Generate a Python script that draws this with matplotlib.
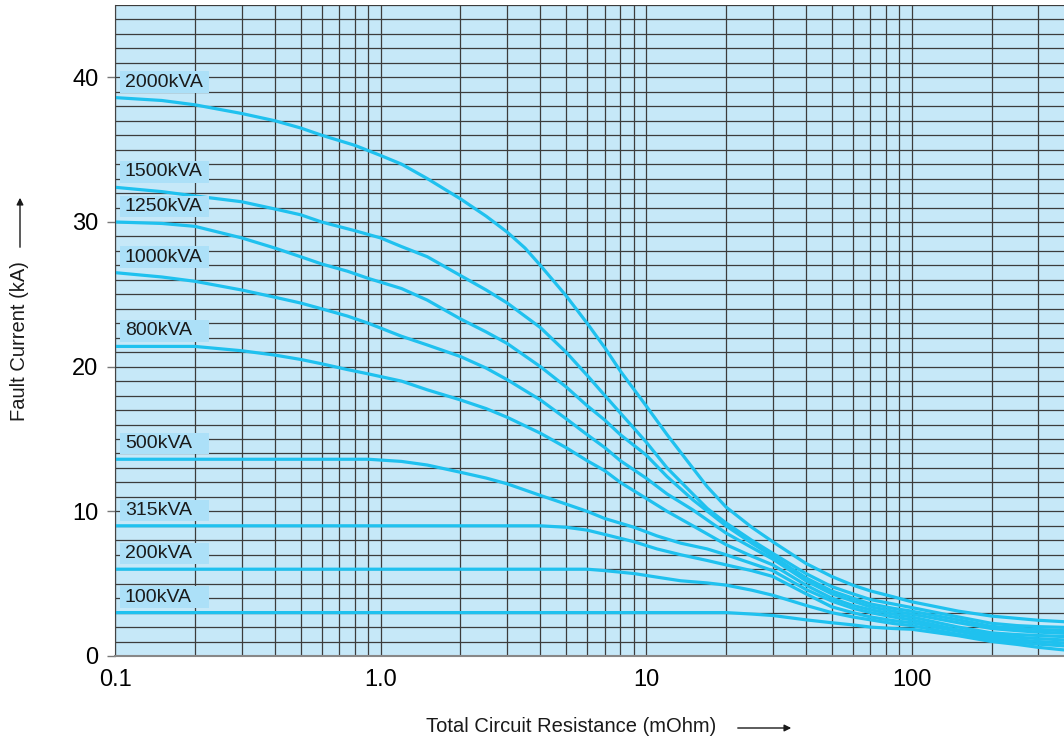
import matplotlib
matplotlib.use('Agg')
from matplotlib import pyplot as plt
from matplotlib.patches import Rectangle
from matplotlib.transforms import blended_transform_factory
import numpy as np

plt.rcParams['font.family'] = ['Liberation Sans', 'DejaVu Sans']

# transformer ratings
labels = ['2000kVA', '1500kVA', '1250kVA', '1000kVA', '800kVA',
          '500kVA', '315kVA', '200kVA', '100kVA']

# resistance (mOhm) / fault current (kA)
r_2000 = [0.1, 0.15, 0.2, 0.3, 0.4, 0.5, 0.6, 0.8, 1, 1.2, 1.5, 2, 2.5, 3, 3.5, 4, 5, 6, 7, 8, 10, 12, 14, 17, 20, 25, 30, 40, 50, 60, 70, 85, 100, 150, 200, 250, 300, 375]
i_2000 = [38.6, 38.4, 38.1, 37.5, 37.0, 36.5, 36.0, 35.3, 34.6, 34.0, 33.0, 31.6, 30.4, 29.3, 28.2, 27.0, 24.9, 23.0, 21.3, 19.7, 17.3, 15.3, 13.7, 11.7, 10.3, 8.9, 7.9, 6.4, 5.5, 4.9, 4.5, 4.1, 3.75, 3.1, 2.76, 2.6, 2.47, 2.37]

r_1500 = [0.1, 0.15, 0.2, 0.3, 0.4, 0.5, 0.6, 0.8, 1, 1.2, 1.5, 2, 2.5, 3, 4, 5, 6, 7, 8, 10, 12, 15, 17, 20, 25, 30, 40, 50, 60, 70, 85, 100, 150, 200, 250, 300, 375]
i_1500 = [32.4, 32.1, 31.8, 31.4, 30.9, 30.5, 30.0, 29.4, 28.9, 28.3, 27.6, 26.3, 25.3, 24.4, 22.7, 21.0, 19.4, 18.0, 16.8, 14.8, 13.0, 11.2, 10.2, 9.2, 8.0, 7.1, 5.7, 4.8, 4.3, 3.9, 3.6, 3.35, 2.7, 2.26, 2.1, 2.03, 1.98]

r_1250 = [0.1, 0.15, 0.2, 0.3, 0.4, 0.5, 0.6, 0.75, 0.9, 1.2, 1.5, 2, 2.5, 3, 4, 5, 6, 7, 8, 10, 12, 15, 20, 25, 30, 40, 50, 60, 70, 85, 100, 150, 200, 250, 300, 375]
i_1250 = [30.0, 29.9, 29.7, 28.9, 28.2, 27.6, 27.1, 26.6, 26.1, 25.4, 24.6, 23.3, 22.4, 21.6, 20.0, 18.6, 17.3, 16.3, 15.3, 13.9, 12.4, 10.8, 9.0, 7.8, 6.9, 5.4, 4.5, 4.0, 3.6, 3.3, 3.1, 2.5, 2.05, 1.92, 1.83, 1.75]

r_1000 = [0.1, 0.15, 0.2, 0.3, 0.4, 0.5, 0.6, 0.75, 0.9, 1.2, 1.5, 2, 2.5, 3, 4, 5, 6, 7, 8, 10, 12, 15, 20, 25, 30, 40, 50, 60, 70, 85, 100, 150, 200, 250, 300, 375]
i_1000 = [26.5, 26.2, 25.9, 25.3, 24.8, 24.4, 24.0, 23.5, 23.0, 22.1, 21.5, 20.7, 19.9, 19.1, 17.7, 16.4, 15.3, 14.4, 13.5, 12.3, 11.2, 10.1, 8.5, 7.5, 6.7, 5.2, 4.3, 3.8, 3.4, 3.1, 2.9, 2.3, 1.9, 1.75, 1.65, 1.57]

r_800 = [0.1, 0.15, 0.2, 0.3, 0.4, 0.5, 0.6, 0.75, 0.9, 1.2, 1.5, 2, 2.5, 3, 4, 5, 6, 7, 8, 10, 12, 15, 20, 25, 30, 40, 50, 60, 70, 85, 100, 150, 200, 250, 300, 375]
i_800 = [21.4, 21.4, 21.4, 21.1, 20.8, 20.5, 20.2, 19.8, 19.5, 19.0, 18.4, 17.7, 17.1, 16.5, 15.4, 14.4, 13.5, 12.8, 12.0, 10.9, 10.0, 9.0, 7.7, 6.9, 6.3, 4.9, 4.0, 3.5, 3.2, 2.9, 2.7, 2.0, 1.6, 1.48, 1.42, 1.34]

r_500 = [0.1, 0.9, 1.2, 1.5, 2, 2.5, 3, 4, 5, 6, 7, 9, 11, 13.5, 17, 20, 25, 30, 40, 50, 60, 70, 85, 100, 150, 200, 250, 300, 375]
i_500 = [13.6, 13.6, 13.45, 13.2, 12.7, 12.3, 11.9, 11.1, 10.5, 10.0, 9.5, 8.9, 8.3, 7.8, 7.4, 7.0, 6.4, 5.9, 4.6, 3.8, 3.3, 3.0, 2.7, 2.5, 1.8, 1.45, 1.3, 1.2, 1.11]

r_315 = [0.1, 4, 5, 6, 7, 9, 11, 13.5, 17, 20, 25, 30, 40, 50, 60, 70, 85, 100, 150, 200, 250, 300, 375]
i_315 = [9.0, 9.0, 8.9, 8.7, 8.4, 7.9, 7.4, 7.0, 6.6, 6.3, 5.9, 5.5, 4.3, 3.4, 3.0, 2.7, 2.45, 2.3, 1.7, 1.3, 1.12, 1.0, 0.9]

r_200 = [0.1, 6, 7, 9, 11, 13.5, 17, 20, 25, 30, 40, 50, 60, 70, 85, 100, 150, 200, 250, 300, 375]
i_200 = [6.0, 6.0, 5.9, 5.7, 5.45, 5.2, 5.05, 4.9, 4.55, 4.2, 3.5, 3.0, 2.7, 2.5, 2.25, 2.1, 1.5, 1.15, 0.95, 0.82, 0.7]

r_100 = [0.1, 20, 25, 30, 40, 50, 60, 70, 85, 100, 150, 200, 250, 300, 375]
i_100 = [3.0, 3.0, 2.9, 2.8, 2.5, 2.3, 2.15, 2.0, 1.9, 1.85, 1.4, 1.0, 0.8, 0.6, 0.42]

curves = [(r_2000, i_2000), (r_1500, i_1500), (r_1250, i_1250), (r_1000, i_1000),
          (r_800, i_800), (r_500, i_500), (r_315, i_315), (r_200, i_200), (r_100, i_100)]

x_ticks = [0.1, 1, 10, 100]
x_ticklabels = ['0.1', '1.0', '10', '100']
y_ticks = [0, 10, 20, 30, 40]

W, H = 1064, 742
fig = plt.figure(figsize=(W / 100, H / 100), dpi=100)
ax = fig.add_axes([115 / W, (H - 656) / H, (W - 115) / W, (656 - 5) / H])
ax.set_facecolor('#c6e8f8')

ax.set_xscale('log')
ax.set_xlim(0.1, 375)
ax.set_ylim(0, 45)

ax.set_xticks(x_ticks)
ax.set_xticklabels(x_ticklabels)
ax.xaxis.set_minor_locator(matplotlib.ticker.LogLocator(base=10, subs=np.arange(2, 10)))
ax.xaxis.set_minor_formatter(matplotlib.ticker.NullFormatter())
ax.set_yticks(y_ticks)
ax.set_yticks(np.arange(0, 46, 1), minor=True)

ax.grid(True, which='both', color='#3c3c3c', linewidth=0.9)
ax.set_axisbelow(True)
ax.tick_params(axis='x', which='both', length=0, pad=9, labelsize=17)
ax.tick_params(axis='y', which='major', length=6, width=1, color='#777777', pad=6, labelsize=17)
ax.tick_params(axis='y', which='minor', length=0)
for side in ['top', 'right']:
    ax.spines[side].set_visible(False)
ax.spines['left'].set_color('#444444')
ax.spines['bottom'].set_color('#888888')
ax.spines['bottom'].set_linewidth(1.5)

for (r, i) in curves:
    ax.plot(r, i, color='#1fc1ef', linewidth=2.3, solid_joinstyle='round')

# label boxes sit just above the start of each curve
trans = blended_transform_factory(ax.transAxes, ax.transData)
for name, (r, i) in zip(labels, curves):
    yc = i[0] + 1.07
    ax.add_patch(Rectangle((5 / 949, yc - 0.74), 89 / 949, 1.48, transform=trans,
                           facecolor='#ace0f8', edgecolor='none', zorder=3))
    ax.text(10 / 949, yc, name, transform=trans, fontsize=14, va='center', ha='left',
            color='#1a1a1a', zorder=4)

# axis titles with arrows
fig.text(20 / W, 1 - 341 / H, 'Fault Current (kA)', rotation=90, fontsize=14.5,
         ha='center', va='center', color='#1a1a1a')
ax.annotate('', xy=(20 / W, 1 - 195 / H), xytext=(20 / W, 1 - 250 / H),
            xycoords='figure fraction', textcoords='figure fraction',
            arrowprops=dict(arrowstyle='-|>', color='#1a1a1a', lw=1, mutation_scale=10))
fig.text(571 / W, 1 - 727 / H, 'Total Circuit Resistance (mOhm)', fontsize=14.5,
         ha='center', va='center', color='#1a1a1a')
ax.annotate('', xy=(794 / W, 1 - 728 / H), xytext=(735 / W, 1 - 728 / H),
            xycoords='figure fraction', textcoords='figure fraction',
            arrowprops=dict(arrowstyle='-|>', color='#1a1a1a', lw=1, mutation_scale=10))

fig.savefig('out.png', dpi=100)
